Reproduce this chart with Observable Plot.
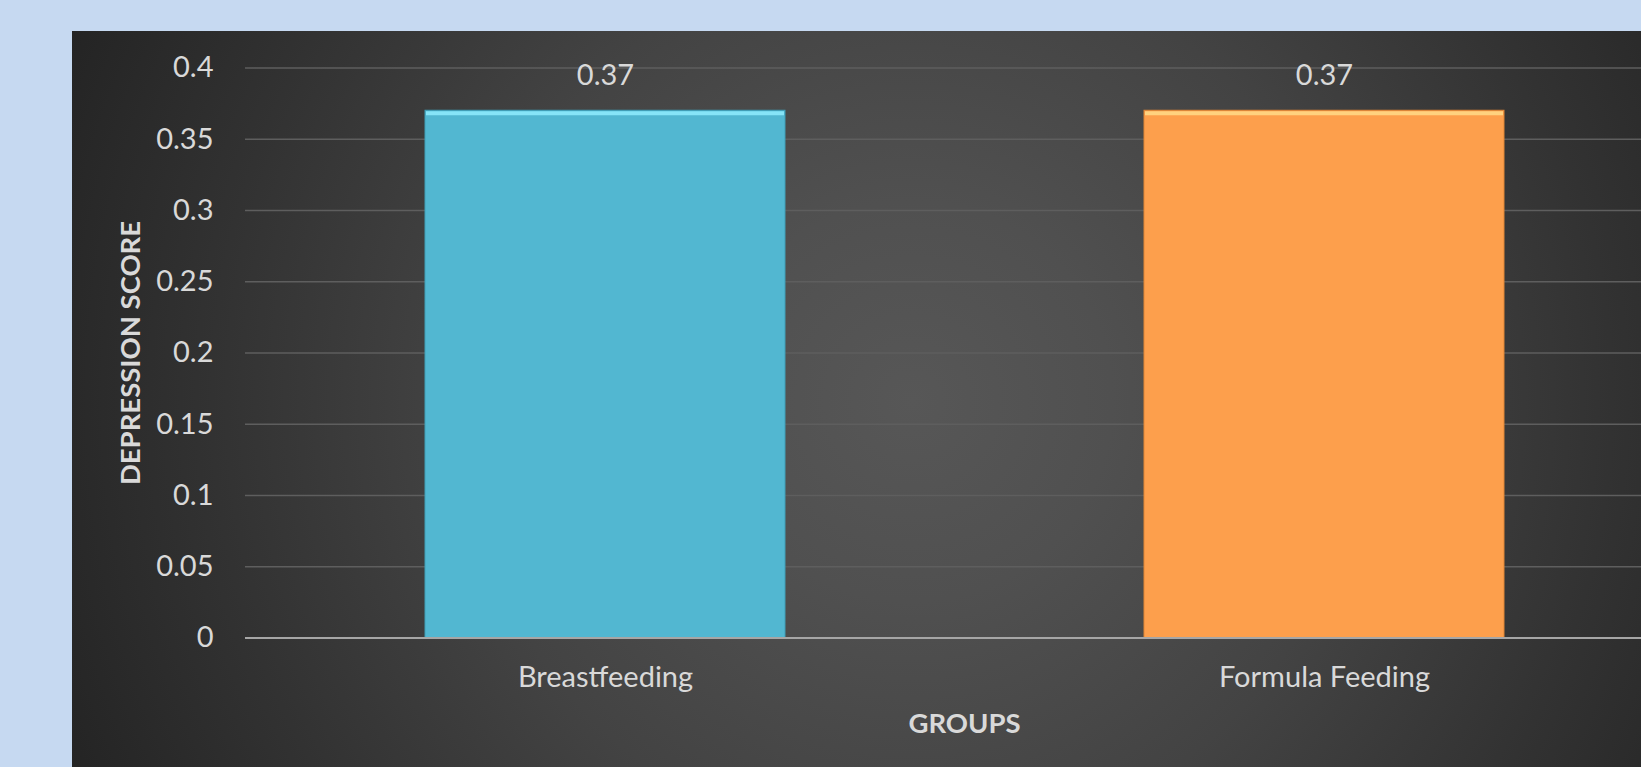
<!DOCTYPE html>
<html><head><meta charset="utf-8">
<script src="https://cdn.jsdelivr.net/npm/d3@7"></script>
<script src="https://cdn.jsdelivr.net/npm/@observablehq/plot@0.6"></script>
<style>
html,body{margin:0;padding:0;width:1641px;height:767px;overflow:hidden;background:#c6d9f1;}
#panel{position:absolute;left:72px;top:31px;width:1700px;height:800px;
 background:radial-gradient(circle 1000px at 840px 370px,#575757 0%,#505050 20%,#434343 45%,#323232 70%,#222 95%,#1e1e1e 100%);}
#chart{position:absolute;left:0;top:0;width:1700px;}
#chart svg{max-width:none !important;}
</style></head><body><div id="panel"></div><div id="chart"></div>
<script>
const groups = ["Breastfeeding", "Formula Feeding"];
const scores = [0.37, 0.37];
const yTicks = [0, 0.05, 0.1, 0.15, 0.2, 0.25, 0.3, 0.35, 0.4];
const barColors = ["#52b7d1", "#fd9f4c"];
const edgeColors = ["#3e9fb8", "#e08535"];
const highlightColors = ["#86e4f7", "#ffd27f"];

const data = groups.map((g, i) => ({group: g, score: scores[i]}));

const marks = [
  Plot.gridY(yTicks.filter(d => d > 0), {stroke: "#5e5e5e", strokeOpacity: 1, strokeWidth: 1.5})
];
groups.forEach((g, i) => {
  const sub = data.filter(d => d.group === g);
  marks.push(Plot.barY(sub, {x: "group", y: "score", fill: barColors[i], stroke: edgeColors[i], strokeWidth: 1}));
  marks.push(Plot.tickY(sub, {x: "group", y: "score", stroke: highlightColors[i], strokeWidth: 4, dy: 2.5, inset: 1}));
});
marks.push(Plot.ruleY([0], {stroke: "#a6a6a6", strokeWidth: 2}));
marks.push(Plot.text(data, {x: "group", y: "score", text: d => String(d.score), dy: -35, fill: "#d9d9d9", fontSize: 29}));
marks.push(Plot.text(["DEPRESSION SCORE"], {frameAnchor: "left", textAnchor: "middle", lineAnchor: "middle", dx: -114, rotate: -90, fill: "#d9d9d9", fontWeight: "bold", fontSize: 27.5}));
marks.push(Plot.text(["GROUPS"], {frameAnchor: "bottom", textAnchor: "middle", lineAnchor: "middle", dy: 86.5, fill: "#d9d9d9", fontWeight: "bold", fontSize: 27.5}));

const chart = Plot.plot({
  width: 1700, height: 767,
  marginTop: 67.5, marginBottom: 129.5, marginLeft: 245, marginRight: 17,
  style: {background: "transparent", fontFamily: "Lato", fontSize: "29px", color: "#d9d9d9", maxWidth: "none"},
  x: {domain: groups, paddingInner: 0.5, paddingOuter: 0.25, label: null, tickSize: 0, tickPadding: 28},
  y: {domain: [0, 0.4], ticks: yTicks, tickFormat: d => String(d), label: null, tickSize: 0, tickPadding: 32},
  marks
});
document.getElementById("chart").appendChild(chart);
</script>
</body></html>
